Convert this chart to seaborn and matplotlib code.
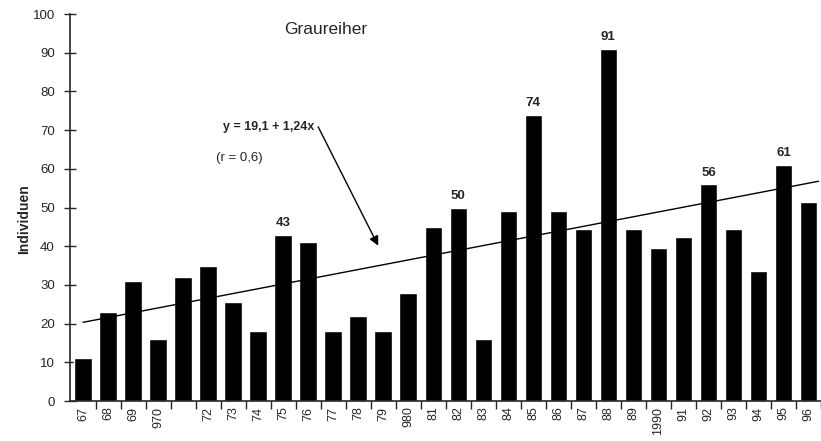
import matplotlib
matplotlib.use("Agg")
import matplotlib.pyplot as plt
import seaborn as sns
import numpy as np
import pandas as pd

years = list(range(1967, 1997))
tick_labels = ["67", "68", "69", "970", "", "72", "73", "74", "75", "76", "77", "78", "79",
               "980", "81", "82", "83", "84", "85", "86", "87", "88", "89", "1990", "91",
               "92", "93", "94", "95", "96"]
values = [11, 23, 31, 16, 32, 35, 25.5, 18, 43, 41, 18, 22, 18, 28, 45, 50, 16, 49, 74, 49,
          44.5, 91, 44.5, 39.5, 42.5, 56, 44.5, 33.5, 61, 51.5]
labelled = {1975: "43", 1982: "50", 1985: "74", 1988: "91", 1992: "56", 1995: "61"}
intercept, slope = 19.1, 1.24

sns.set_style("ticks")
plt.rcParams['font.family'] = ['Liberation Sans', 'DejaVu Sans']

df = pd.DataFrame({"year": [str(y) for y in years], "n": values})

fig = plt.figure(figsize=(8.21, 4.41), dpi=100)
ax = fig.add_axes([0.0853, 0.0907, 0.9147, 0.8773])
sns.barplot(data=df, x="year", y="n", color="black", width=0.7, ax=ax, saturation=1)

# regression line
xs = np.array([0, 29.4])
ax.plot(xs, intercept + slope * (xs + 1), color="black", lw=1.0)

# value labels
for i, y in enumerate(years):
    if y in labelled:
        ax.text(i, values[i] + 1.5, labelled[y], ha="center", va="bottom", fontsize=9.5, fontweight="bold")

ax.text(8.05, 96, "Graureiher", fontsize=12.5, ha="left", va="center")
ax.text(5.6, 70.8, "y = 19,1 + 1,24x", fontsize=9, fontweight="bold", ha="left", va="center")
ax.text(5.3, 62.8, "(r = 0,6)", fontsize=9.5, ha="left", va="center")
ax.annotate("", xy=(11.85, 39.5), xytext=(9.35, 71.5),
            arrowprops=dict(arrowstyle="-|>", color="black", lw=1.0, mutation_scale=14))

ax.set_xlim(-0.52, 29.3)
ax.set_ylim(0, 100)
ax.set_yticks(range(0, 101, 10))
ax.tick_params(axis="y", direction="inout", length=8, width=1, labelsize=9.5, pad=7)
ax.set_xticks(range(len(years)))
ax.set_xticklabels(tick_labels, rotation=90, fontsize=9)
ax.tick_params(axis="x", which="major", length=0, pad=4)
ax.set_xticks(np.arange(len(years)) + 0.5, minor=True)
ax.tick_params(axis="x", which="minor", direction="out", length=6, width=1)
ax.set_xlabel("")
ax.set_ylabel("Individuen", fontsize=10, fontweight="bold")
ax.yaxis.set_label_coords(-0.052, 0.47)
for s in ["top", "right"]:
    ax.spines[s].set_visible(False)
ax.spines["left"].set_linewidth(1.2)
ax.spines["bottom"].set_linewidth(1.2)

fig.savefig("out.png", dpi=100)
